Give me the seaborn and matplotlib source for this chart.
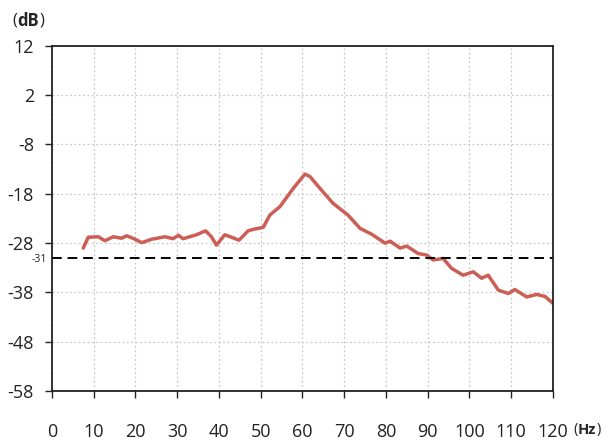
import numpy as np
import pandas as pd
import matplotlib
matplotlib.use("Agg")
import matplotlib.pyplot as plt
import seaborn as sns

# spectrum
freq_hz = [7.5, 8.7, 11.1, 12.7, 14.7, 16.7, 17.9, 19.9, 21.5, 23.9, 27.1, 29.0,
           30.3, 31.4, 34.6, 36.8, 38.2, 39.4, 41.4, 43.0, 44.8, 47.0, 48.2, 50.6,
           52.2, 54.6, 57.8, 60.6, 61.8, 64.2, 67.3, 70.9, 73.8, 76.6, 79.8, 81.0,
           83.4, 85.0, 87.7, 89.7, 91.3, 93.7, 95.7, 98.5, 100.9, 102.9, 104.5,
           106.9, 109.3, 110.9, 113.7, 116.1, 118.1, 120.0]
level_db = [-29.0, -26.8, -26.7, -27.5, -26.7, -27.0, -26.5, -27.2, -27.9, -27.2,
            -26.7, -27.1, -26.4, -27.1, -26.3, -25.5, -26.7, -28.4, -26.3, -26.8,
            -27.4, -25.5, -25.2, -24.8, -22.3, -20.6, -16.9, -14.0, -14.5, -16.9,
            -19.9, -22.3, -25.0, -26.2, -28.0, -27.6, -29.0, -28.6, -30.1, -30.4,
            -31.4, -31.1, -33.1, -34.5, -33.8, -35.1, -34.5, -37.5, -38.2, -37.4,
            -38.9, -38.4, -38.8, -40.2]
threshold_db = -31
x_ticks = list(range(0, 121, 10))
y_ticks = list(range(-58, 13, 10))

df = pd.DataFrame({"freq": freq_hz, "level": level_db})

sns.set_style("white")
plt.rcParams["font.family"] = ["Open Sans", "DejaVu Sans"]
plt.rcParams["axes.unicode_minus"] = False

fig = plt.figure(figsize=(6.11, 4.45), dpi=100)
ax = fig.add_axes([0.085, 0.121, 0.82, 0.776])

sns.lineplot(data=df, x="freq", y="level", ax=ax, color="#cc5e55", linewidth=2.5)
ax.axhline(threshold_db, color="black", linestyle=(0, (5, 3)), linewidth=1.4)

ax.set_xlim(0, 120)
ax.set_ylim(-58, 12)
ax.set_xticks(x_ticks)
ax.set_yticks(y_ticks)
ax.grid(True, color="#c8c8c8", linestyle=(0, (1.5, 2)), linewidth=0.9)
for s in ax.spines.values():
    s.set_color("#222222")
    s.set_linewidth(1.3)
ax.tick_params(direction="out", length=5, width=1, colors="#222222",
               labelsize=13, pad=8, left=True, bottom=True)
ax.tick_params(axis="x", pad=18)
ax.set_xlabel("")
ax.set_ylabel("")

ax.text(-0.01, threshold_db - 0.4, str(threshold_db), transform=ax.get_yaxis_transform(),
        ha="right", va="center", fontsize=7.5)


def unit_label(x, y, unit, size):
    # "(" normal, unit bold, ")" normal, chained left to right
    t1 = fig.text(x, y, "(", fontsize=size, ha="left", va="center")
    t2 = ax.annotate(unit, xy=(1, 0.5), xycoords=t1, fontsize=size,
                     fontweight="bold", ha="left", va="center")
    ax.annotate(")", xy=(1, 0.5), xycoords=t2, fontsize=size,
                ha="left", va="center")


unit_label(0.021, 0.953, "dB", 12)
unit_label(0.939, 0.034, "Hz", 10.5)

fig.savefig("out.png", dpi=100)
